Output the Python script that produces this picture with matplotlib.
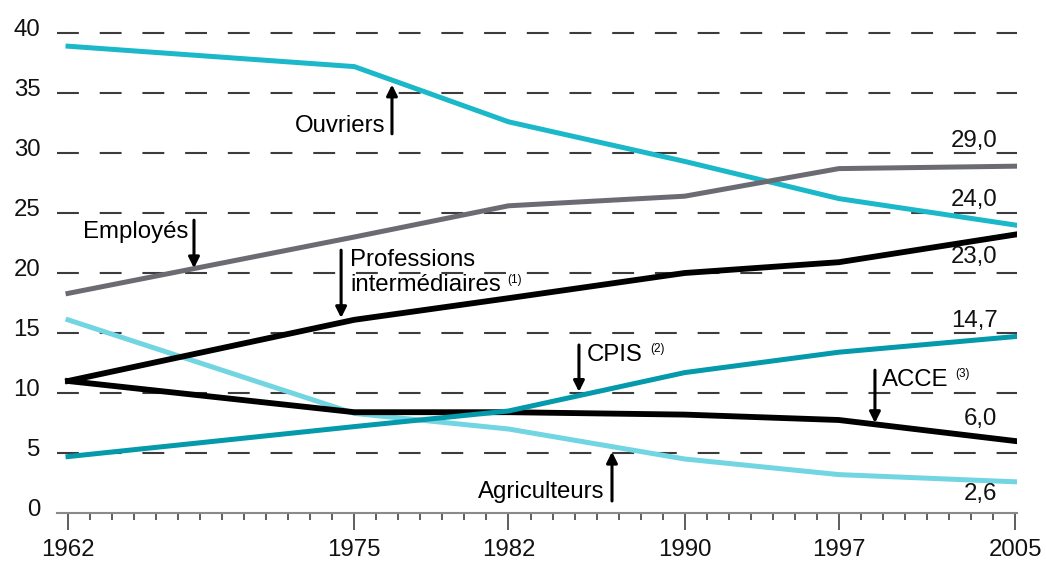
import matplotlib
matplotlib.use("Agg")
import matplotlib.pyplot as plt
from matplotlib.transforms import ScaledTranslation

plt.rcParams['font.family'] = ['Liberation Sans', 'DejaVu Sans']

# Data (share of employment, %)
years = [1962, 1975, 1982, 1990, 1997, 2005]
ouvriers = [38.9, 37.2, 32.6, 29.3, 26.2, 24.0]
employes = [18.3, 23.0, 25.6, 26.4, 28.7, 28.9]
prof_inter = [11.0, 16.1, 17.9, 20.0, 20.9, 23.2]
cpis = [4.7, 7.2, 8.5, 11.7, 13.4, 14.7]
acce = [11.0, 8.4, 8.4, 8.2, 7.75, 6.0]
agriculteurs = [16.1, 8.3, 7.0, 4.5, 3.2, 2.6]

end_labels = ['29,0', '24,0', '23,0', '14,7', '6,0', '2,6']
end_label_y = [31.0, 26.1, 21.35, 16.0, 7.8, 1.6]

major_years = [1962, 1975, 1982, 1990, 1997, 2005]
y_ticks = [0, 5, 10, 15, 20, 25, 30, 35, 40]

FS = 17.3

fig = plt.figure(figsize=(10.46, 5.63), dpi=100)
ax = fig.add_axes([57 / 1046, 50 / 563, 960 / 1046, 492 / 563])
ax.set_xlim(1961.5, 2005.09)
ax.set_ylim(0, 41)

# dashed gridlines
for v in y_ticks[1:]:
    ax.axhline(v, color='#3c3c3c', lw=1.5, dashes=(10.5, 10), zorder=1)

# series
ax.plot(years, ouvriers, color='#1ab8c8', lw=3.6, solid_joinstyle='round', zorder=3)
ax.plot(years, employes, color='#6b6c73', lw=3.6, solid_joinstyle='round', zorder=3)
ax.plot(years, agriculteurs, color='#72d5e2', lw=3.6, solid_joinstyle='round', zorder=3)
ax.plot(years, acce, color='black', lw=4.2, solid_joinstyle='round', zorder=4)
ax.plot(years, cpis, color='#0499ab', lw=3.6, solid_joinstyle='round', zorder=5)
ax.plot(years, prof_inter, color='black', lw=4.2, solid_joinstyle='round', zorder=4)

# end values
for lab, yv in zip(end_labels, end_label_y):
    ax.text(2004.2, yv, lab, ha='right', va='center', fontsize=FS, color='#111111')

# annotations with arrows
arrow = dict(arrowstyle='-|>', lw=2.2, color='black', mutation_scale=16, shrinkA=0, shrinkB=0)

def label_arrow(x, y_tail, y_head):
    ax.annotate('', xy=(x, y_head), xytext=(x, y_tail), arrowprops=arrow, zorder=6)

def note(txt, ref):
    # small superscript placed just after a label
    ax.annotate(txt, xy=(1, 0.75), xycoords=ref, xytext=(5, 0),
                textcoords='offset points', ha='left', va='center', fontsize=8.5)

label_arrow(1976.71, 31.6, 35.7)
ax.text(1976.4, 32.25, 'Ouvriers', ha='right', va='center', fontsize=FS)

label_arrow(1967.72, 24.4, 20.4)
ax.text(1967.45, 23.4, 'Employés', ha='right', va='center', fontsize=FS)

label_arrow(1974.4, 21.9, 16.25)
ax.text(1974.8, 21.1, 'Professions', ha='left', va='center', fontsize=FS)
t = ax.text(1974.8, 19.0, 'intermédiaires', ha='left', va='center', fontsize=FS)
note('(1)', t)

label_arrow(1985.2, 14.0, 10.1)
t = ax.text(1985.57, 13.2, 'CPIS', ha='left', va='center', fontsize=FS)
note('(2)', t)

label_arrow(1998.64, 11.9, 7.5)
t = ax.text(1998.96, 11.1, 'ACCE', ha='left', va='center', fontsize=FS)
note('(3)', t)

label_arrow(1986.7, 1.0, 5.1)
ax.text(1986.34, 1.75, 'Agriculteurs', ha='right', va='center', fontsize=FS)

# axes styling
for side in ['top', 'right', 'left']:
    ax.spines[side].set_visible(False)
ax.spines['bottom'].set_color('#8a8a8a')
ax.spines['bottom'].set_linewidth(1.5)

ax.set_xticks(major_years)
ax.set_xticks(range(1962, 2006), minor=True)
ax.tick_params(axis='x', which='major', length=12, width=1.1, color='#333333',
               pad=7, labelsize=FS)
ax.tick_params(axis='x', which='minor', length=5, width=1.1, color='#333333')
ax.set_yticks(y_ticks)
ax.tick_params(axis='y', length=0, pad=12, labelsize=FS)
offset = ScaledTranslation(0, 4 / 72, fig.dpi_scale_trans)
for lab in ax.get_yticklabels():
    lab.set_transform(lab.get_transform() + offset)
for lab in ax.get_xticklabels() + ax.get_yticklabels():
    lab.set_color('#111111')

fig.savefig('out.png', dpi=100)
